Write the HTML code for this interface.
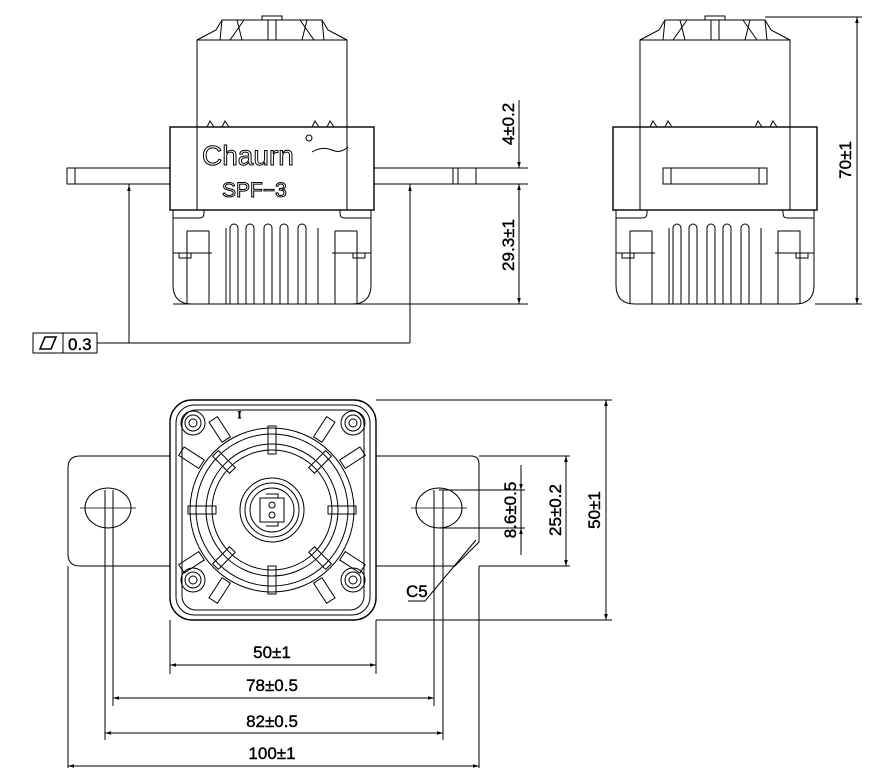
<!DOCTYPE html>
<html><head><meta charset="utf-8"><style>
body{margin:0;background:#fff}
svg{display:block}
.t{font-family:"Liberation Sans Narrow","Liberation Sans",sans-serif;font-size:17px;font-weight:normal;fill:#000;stroke:#000;stroke-width:0.4}
</style></head><body>
<svg width="888" height="768" viewBox="0 0 888 768" xmlns="http://www.w3.org/2000/svg" fill="none" stroke="#000" stroke-width="1">
<defs>
<marker id="a" viewBox="0 0 10 10" refX="10" refY="5" markerWidth="9" markerHeight="6" orient="auto-start-reverse" markerUnits="userSpaceOnUse"><path d="M0,2 L10,5 L0,8z" fill="#000" stroke="none"/></marker>
<g id="unit">
 <path d="M-50,20 L50,20 L56,30 L75,40 L-75,40 L-56,30Z"/>
 <path d="M-50,20 L-52,40 M50,20 L52,40 M-35,20 L-30,40 M-28,20 L-42,40 M35,20 L30,40 M28,20 L42,40 M-4,20 V40 M4,20 V40"/>
 <rect x="-10" y="16" width="20" height="4"/>
 <rect x="-75" y="40" width="150" height="87"/>
 <path d="M-65,127 l3,-6 l4,6 M-50,127 l3,-6 l4,6 M40,127 l3,-6 l4,6 M55,127 l3,-6 l4,6"/>
 <rect x="-102" y="127" width="204" height="83" stroke-width="1.4"/>
 <line x1="-75" y1="127" x2="-75" y2="210"/><line x1="75" y1="127" x2="75" y2="210"/>
 <path d="M-99,210 V285 Q-99,304 -80,304 H80 Q99,304 99,285 V210"/>
 <path d="M-99,218 H-72 Q-68,218 -68,213 V210 M99,218 H72 Q68,218 68,213 V210"/>
 <rect x="-85" y="231" width="22" height="22"/><rect x="63" y="231" width="22" height="22"/>
 <path d="M-99,253 H-60 M99,253 H60 M-85,253 V304 M85,253 V304 M-63,253 V304 M63,253 V304"/>
 <rect x="-93" y="253" width="12" height="5"/><rect x="81" y="253" width="12" height="5"/>
 <path d="M-42,304 V228 a4,4 0 0 1 8,0 V304 M-26,304 V228 a4,4 0 0 1 8,0 V304 M-8,304 V228 a4,4 0 0 1 8,0 V304 M8,304 V228 a4,4 0 0 1 8,0 V304 M26,304 V228 a4,4 0 0 1 8,0 V304"/>
 <path d="M-46,304 V228 M46,304 V228"/>
</g>
</defs>

<use href="#unit" x="272"/>
<rect x="67" y="168" width="103" height="16"/>
<line x1="75" y1="168" x2="75" y2="184"/>
<path d="M374,168 H528 M374,184 H528 M476,168 V184 M453,168 V184 M458,168 V184"/>
<text x="202" y="165" style="font-family:'Liberation Sans',sans-serif;font-size:28px;fill:none;stroke:#000;stroke-width:1">Chaurn</text>
<path d="M312,152 q10,-6 20,-2 q8,4 16,-3" />
<circle cx="309" cy="138" r="3"/>
<text x="222" y="197" style="font-family:'Liberation Sans',sans-serif;font-size:21px;fill:none;stroke:#000;stroke-width:1">SPF−3</text>
<line x1="173" y1="304" x2="528" y2="304"/>
<line x1="519" y1="100" x2="519" y2="168" marker-end="url(#a)"/>
<line x1="519" y1="304" x2="519" y2="184" marker-start="url(#a)" marker-end="url(#a)"/>
<text class="t" transform="translate(514,124) rotate(-90)" text-anchor="middle">4±0.2</text>
<text class="t" transform="translate(514,245) rotate(-90)" text-anchor="middle">29.3±1</text>
<rect x="33" y="333" width="30" height="20"/><rect x="63" y="333" width="34" height="20"/>
<path d="M40,349 L45,337 H56 L51,349Z" stroke-width="1.6"/>
<text class="t" x="68" y="350">0.3</text>
<path d="M97,343 H410 M129,343 V184 M410,343 V184" />
<line x1="129" y1="200" x2="129" y2="185" marker-end="url(#a)"/>
<line x1="410" y1="200" x2="410" y2="185" marker-end="url(#a)"/>

<use href="#unit" x="715"/>
<rect x="663" y="168" width="104" height="16"/>
<path d="M671,168 V184 M759,168 V184"/>
<path d="M765,17 H862 M815,304 H862"/>
<line x1="857" y1="17" x2="857" y2="304" marker-start="url(#a)" marker-end="url(#a)"/>
<text class="t" transform="translate(851,160) rotate(-90)" text-anchor="middle">70±1</text>

<path d="M170,456 H80 Q68,456 68,468 V554 Q68,566 80,566 H170 M376,456 H471 Q479,456 479,464 V542 L455,566 H376"/>
<rect x="170" y="400" width="206" height="220" rx="22" stroke-width="1.4"/>
<rect x="176" y="405" width="194" height="210" rx="18"/>
<rect x="182" y="410" width="182" height="200" rx="14"/>
<ellipse cx="108" cy="508" rx="23" ry="20"/><ellipse cx="439" cy="508" rx="23" ry="20"/>
<path d="M80,508 H136 M411,508 H467" stroke-width="0.8"/>
<g transform="translate(272,510)">
 <circle r="82"/><circle r="76"/><circle r="66"/><circle r="60"/><circle r="32"/><circle r="27"/><circle r="22"/>
 <path d="M-12,-12 H12 V12 H-12Z M-6,-16 H6 V-12 M-6,16 H6 V12"/>
 <circle cx="0" cy="-5" r="3"/><circle cx="0" cy="5" r="3"/>
 <g id="rib"><rect x="-4" y="-84" width="8" height="28"/><rect x="-5" y="-108" width="10" height="24" transform="rotate(33)"/><rect x="-5" y="-108" width="10" height="24" transform="rotate(-33)"/></g>
 <use href="#rib" transform="rotate(90)"/><use href="#rib" transform="rotate(180)"/><use href="#rib" transform="rotate(270)"/>
 <rect x="-4" y="-80" width="8" height="24" transform="rotate(45)"/><rect x="-4" y="-80" width="8" height="24" transform="rotate(135)"/><rect x="-4" y="-80" width="8" height="24" transform="rotate(225)"/><rect x="-4" y="-80" width="8" height="24" transform="rotate(315)"/>
</g>
<g id="scr"><circle cx="193" cy="423" r="12"/><circle cx="193" cy="423" r="8"/><circle cx="193" cy="423" r="4"/></g>
<use href="#scr" x="160"/><use href="#scr" y="157"/><use href="#scr" x="160" y="157"/>
<text x="238" y="418" style="font-family:'Liberation Serif',serif;font-size:9px;fill:#000">I</text>
<path d="M376,400 H612 M376,620 H612 M479,456 H570 M479,566 H570 M439,490 H525 M439,528 H525"/>
<line x1="606" y1="400" x2="606" y2="620" marker-start="url(#a)" marker-end="url(#a)"/>
<line x1="566" y1="456" x2="566" y2="566" marker-start="url(#a)" marker-end="url(#a)"/>
<line x1="521" y1="465" x2="521" y2="490" marker-end="url(#a)"/>
<line x1="521" y1="555" x2="521" y2="528" marker-end="url(#a)"/>
<line x1="521" y1="490" x2="521" y2="528"/>
<text class="t" transform="translate(600,510) rotate(-90)" text-anchor="middle">50±1</text>
<text class="t" transform="translate(561,510) rotate(-90)" text-anchor="middle">25±0.2</text>
<text class="t" transform="translate(516,510) rotate(-90)" text-anchor="middle">8.6±0.5</text>
<path d="M408,601 H425 L476,540"/>
<text class="t" x="406" y="597">C5</text>
<path d="M170,620 V674 M376,620 V674 M113,490 V706 M434,490 V706 M105,490 V740 M443,490 V740 M68,566 V774 M479,566 V774"/>
<line x1="170" y1="665" x2="376" y2="665" marker-start="url(#a)" marker-end="url(#a)"/>
<line x1="113" y1="698" x2="434" y2="698" marker-start="url(#a)" marker-end="url(#a)"/>
<line x1="105" y1="733" x2="443" y2="733" marker-start="url(#a)" marker-end="url(#a)"/>
<line x1="68" y1="766" x2="479" y2="766" marker-start="url(#a)" marker-end="url(#a)"/>
<text class="t" x="272" y="658" text-anchor="middle">50±1</text>
<text class="t" x="272" y="691" text-anchor="middle">78±0.5</text>
<text class="t" x="272" y="727" text-anchor="middle">82±0.5</text>
<text class="t" x="272" y="759" text-anchor="middle">100±1</text>
</svg>
</body></html>
